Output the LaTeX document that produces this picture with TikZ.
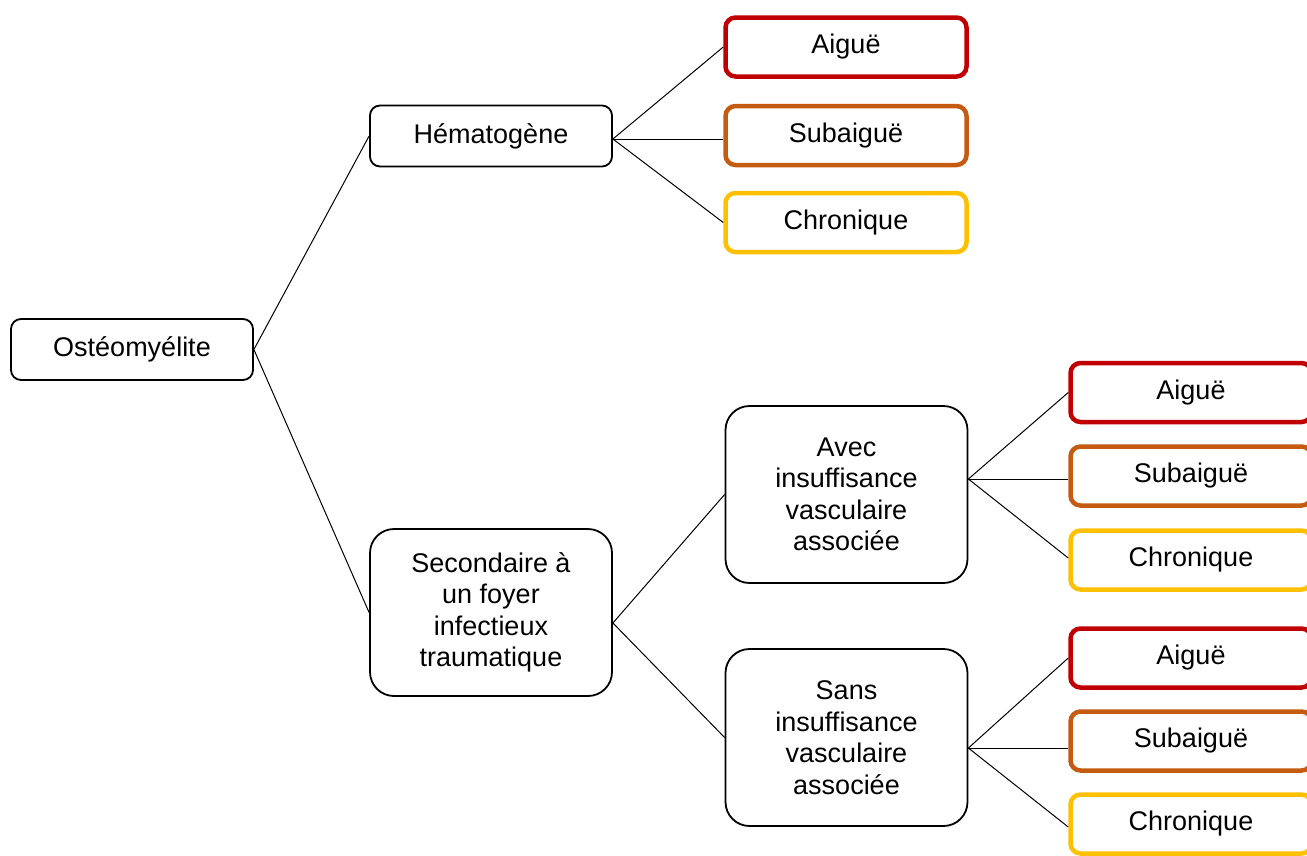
\documentclass[tikz,border=0pt]{standalone}
\usepackage{fontspec}
\setmainfont{Liberation Sans}

\definecolor{aigue}{HTML}{C00000}
\definecolor{subaigue}{HTML}{C55A11}
\definecolor{chronique}{HTML}{FFC000}

\begin{document}
\begin{tikzpicture}
	[x=1pt,y=-1pt,every node/.style={draw,rounded corners=10pt,align=center,inner sep=0pt,font=\fontsize{27}{31.5}\selectfont},
	boite/.style={line width=1.8pt,minimum width=242pt,minimum height=61pt},
	grande/.style={boite,rounded corners=24pt,minimum height=177pt},
	etat/.style={line width=4.5pt,minimum width=241pt,minimum height=59pt},
	lien/.style={line width=1pt}]
	\clip (0,0) rectangle (1307,855);
	\node[boite] (osteo) at (132,349.5) {Ostéomyélite};
	\node[boite] (hemato) at (491,136) {Hématogène};
	\node[grande, minimum height=167pt] (second) at (491,612.5) {Secondaire à\\un foyer\\infectieux\\traumatique};
	\node[grande] (avec) at (846.5,494.5) {Avec\\insuffisance\\vasculaire\\associée};
	\node[grande] (sans) at (846.5,737.5) {Sans\\insuffisance\\vasculaire\\associée};
	
	% stades de l'osteomyelite hematogene
	\node[etat, draw=aigue] (h1) at (846,47) {Aiguë};
	\node[etat, draw=subaigue] (h2) at (846,135.5) {Subaiguë};
	\node[etat, draw=chronique] (h3) at (846,222.5) {Chronique};
	
	% avec insuffisance vasculaire
	\node[etat, draw=aigue] (a1) at (1191,392.5) {Aiguë};
	\node[etat, draw=subaigue] (a2) at (1191,476) {Subaiguë};
	\node[etat, draw=chronique] (a3) at (1191,560) {Chronique};
	
	% sans insuffisance vasculaire
	\node[etat, draw=aigue] (s1) at (1191,658) {Aiguë};
	\node[etat, draw=subaigue] (s2) at (1191,741) {Subaiguë};
	\node[etat, draw=chronique] (s3) at (1191,824) {Chronique};
	
	% points de depart des liens
	\coordinate (jh) at ([yshift=-3pt]hemato.east);
	\coordinate (js) at ([yshift=-10.5pt]second.east);
	\coordinate (ja) at ([yshift=15.5pt]avec.east);
	\coordinate (jn) at ([yshift=-10.5pt]sans.east);
	
	\draw[lien] (osteo.east) -- (hemato.west);
	\draw[lien] (osteo.east) -- (second.west);
	\draw[lien] (jh) -- (h1.west);
	\draw[lien] (jh) -- (h2.west |- jh);
	\draw[lien] (jh) -- (h3.west);
	\draw[lien] (js) -- (avec.west);
	\draw[lien] (js) -- (sans.west);
	\draw[lien] (ja) -- (a1.west);
	\draw[lien] (ja) -- (a2.west |- ja);
	\draw[lien] (ja) -- ([yshift=2pt]a3.west);
	\draw[lien] (jn) -- (s1.west);
	\draw[lien] (jn) -- (s2.west |- jn);
	\draw[lien] (jn) -- ([yshift=-3pt]s3.west);
\end{tikzpicture}
\end{document}
